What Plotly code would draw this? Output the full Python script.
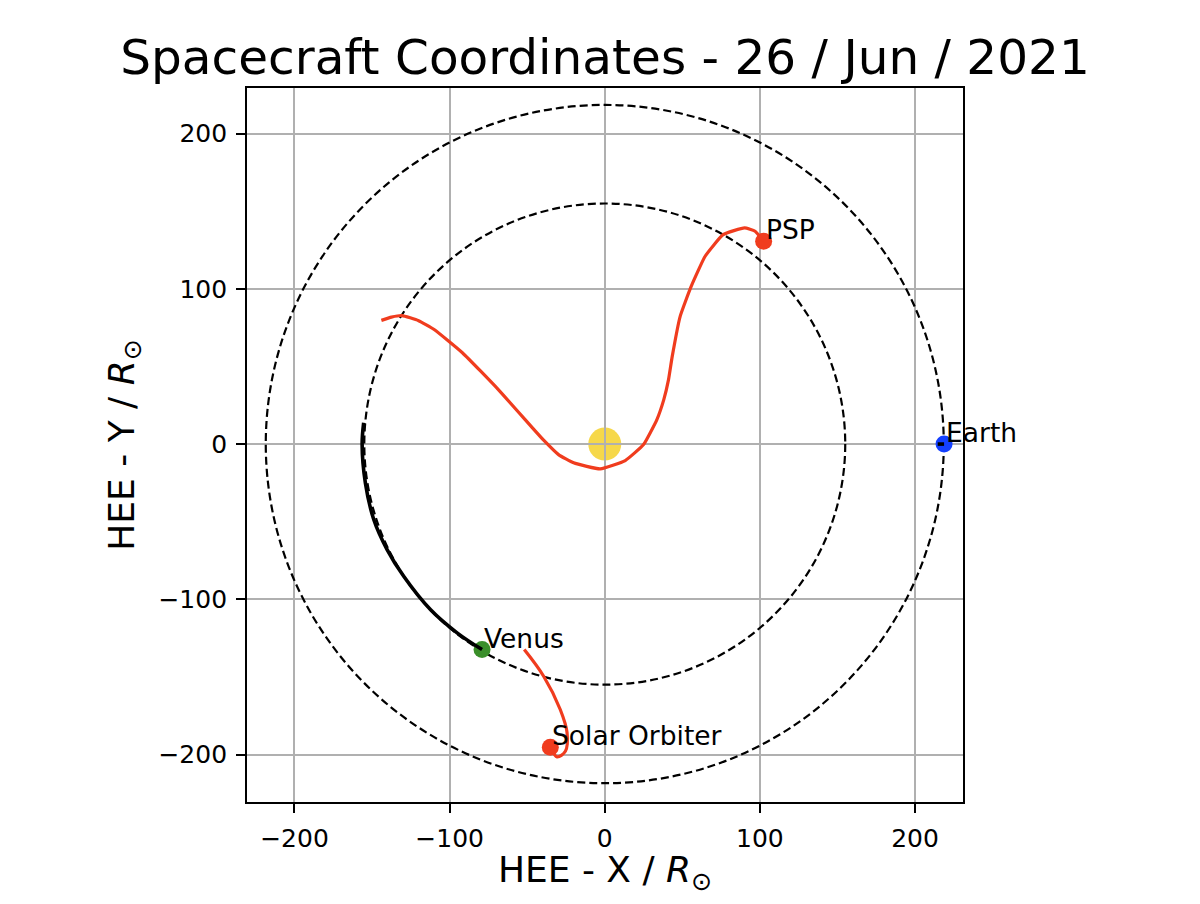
import plotly.graph_objects as go

# positions, in solar radii (HEE frame)
psp_track_x = [-144.0, -137.5, -130.7, -120.0, -110.0, -91.6, -68.6, -45.6, -39.4, -29.8, -20.1,
               -2.9, 13.2, 25.0, 33.6, 38.0, 41.1, 43.4, 48.6, 55.7, 64.7, 76.3, 90.1, 96.9, 102.4]
psp_track_y = [79.7, 81.8, 82.8, 79.5, 73.8, 58.7, 35.1, 9.3, 2.5, -6.8, -12.1,
               -16.0, -10.6, -0.3, 15.8, 28.5, 41.5, 56.0, 82.3, 101.6, 121.0, 134.9, 139.3, 137.1, 130.6]

venus_track_x = [-155.4, -156.4, -154.3, -148.9, -140.3, -129.6, -112.4, -95.2, -79.1]
venus_track_y = [13.7, -0.3, -25.0, -48.6, -68.0, -85.2, -106.6, -121.6, -132.4]

solo_track_x = [-51.9, -39.4, -28.7, -24.3, -25.4, -30.8, -34.0]
solo_track_y = [-132.4, -149.6, -171.0, -186.0, -197.9, -201.5, -196.8]

earth_track_x = [214.6, 216.6, 218.7]
earth_track_y = [0.0, 0.0, 0.0]

bodies = ['PSP', 'Solar Orbiter', 'Venus', 'Earth']
body_x = [102.4, -35.1, -79.1, 218.7]
body_y = [130.6, -195.3, -132.4, 0.0]
body_colors = ['#f03c1e', '#f03c1e', '#3a8f2a', '#1440ff']

sun_x = [0.0]
sun_y = [0.0]

orbit_radii = [155.0, 218.5]  # Venus and Earth orbits

title = 'Spacecraft Coordinates - 26 / Jun / 2021'
font = 'DejaVu Sans'
RED = '#f03c1e'

fig = go.Figure()

# position dots (drawn under the tracks, like the original)
for name, x, y, c in zip(bodies, body_x, body_y, body_colors):
    fig.add_trace(go.Scatter(x=[x], y=[y], mode='markers', name=name,
                             marker=dict(color=c, size=17, line=dict(width=0))))

fig.add_trace(go.Scatter(x=psp_track_x, y=psp_track_y, mode='lines',
                         line=dict(color=RED, width=3.2, shape='spline', smoothing=0.4)))
fig.add_trace(go.Scatter(x=solo_track_x, y=solo_track_y, mode='lines',
                         line=dict(color=RED, width=3.2, shape='spline')))
fig.add_trace(go.Scatter(x=venus_track_x, y=venus_track_y, mode='lines',
                         line=dict(color='black', width=3.6, shape='spline')))
fig.add_trace(go.Scatter(x=earth_track_x, y=earth_track_y, mode='lines',
                         line=dict(color='black', width=3.6)))

# orbits as dashed circles
for r in orbit_radii:
    fig.add_shape(type='circle', xref='x', yref='y', x0=-r, y0=-r, x1=r, y1=r,
                  line=dict(color='black', width=2.2, dash='8px,4px'), layer='between')

# the sun sits under the grid, so draw it as a pixel-sized shape
for sx, sy in zip(sun_x, sun_y):
    fig.add_shape(type='circle', xref='x', yref='y', xsizemode='pixel', ysizemode='pixel',
                  xanchor=sx, yanchor=sy, x0=-16.5, x1=16.5, y0=-16.5, y1=16.5,
                  fillcolor='#f6d84a', line=dict(width=0), layer='below')

for name, x, y in zip(bodies, body_x, body_y):
    fig.add_annotation(x=x, y=y, text=name, showarrow=False, xanchor='left', yanchor='bottom',
                       xshift=0, yshift=-6, font=dict(family=font, size=26.5, color='black'))

axis_style = dict(showline=True, mirror=True, linecolor='black', linewidth=1.8,
                  ticks='outside', ticklen=9, tickwidth=1.8, tickcolor='black',
                  showgrid=True, gridcolor='#b0b0b0', gridwidth=1.8, zeroline=False,
                  tickfont=dict(family=font, size=25, color='black'),
                  tickvals=[-200, -100, 0, 100, 200], ticklabelstandoff=4,
                  automargin=False)

fig.update_xaxes(range=[-230.6, 230.9],
                 title=dict(text='HEE - X / <i>R</i><sub>⊙</sub>', standoff=15,
                            font=dict(family=font, size=36, color='black')),
                 **axis_style)
fig.update_yaxes(range=[-230.6, 229.4],
                 title=dict(text='HEE - Y / <i>R</i><sub>⊙</sub>', standoff=13,
                            font=dict(family=font, size=36, color='black')),
                 **axis_style)

# page body adds ~8px of margin, so the figure is a bit smaller than the window
fig.update_layout(
    width=1184, height=888,
    margin=dict(l=239, r=229, t=80, b=94),
    paper_bgcolor='white', plot_bgcolor='white',
    showlegend=False,
    title=dict(text=title, x=0.5, xref='paper', xanchor='center',
               y=1, yref='paper', yanchor='bottom', pad=dict(b=14),
               font=dict(family=font, size=48.5, color='black')),
)

fig.write_html('out.html')
